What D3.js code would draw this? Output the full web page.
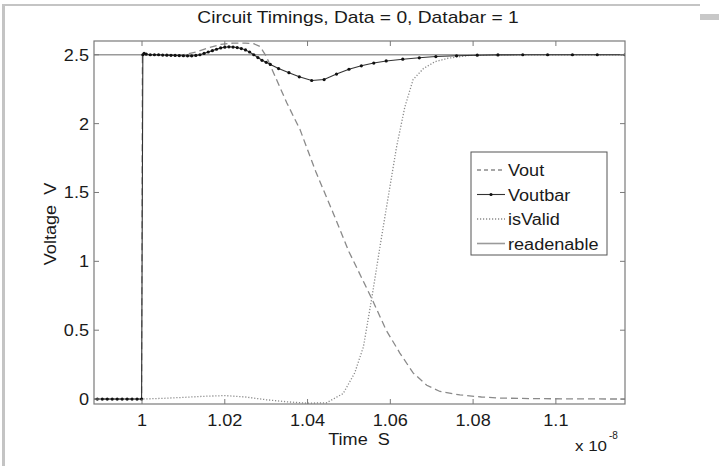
<!DOCTYPE html>
<html>
<head>
<meta charset="utf-8">
<script src="https://cdn.jsdelivr.net/npm/d3@7"></script>
<style>
html,body{margin:0;padding:0;background:#fff;}
svg{display:block;}
text{font-family:"Liberation Sans",Arial,sans-serif;fill:#1a1a1a;}
</style>
</head>
<body>
<svg id="chart" width="719" height="466"></svg>
<script>
// ---- data (time in units of 1e-8 s) ----
const xTicks = [1, 1.02, 1.04, 1.06, 1.08, 1.1];
const xTickLabels = ["1", "1.02", "1.04", "1.06", "1.08", "1.1"];
const yTicks = [0, 0.5, 1, 1.5, 2, 2.5];
const yTickLabels = ["0", "0.5", "1", "1.5", "2", "2.5"];
const seriesNames = ["Vout", "Voutbar", "isValid", "readenable"];

const voutT = [0.988, 0.9999, 1.0001, 1.005, 1.01, 1.013, 1.016, 1.019, 1.022, 1.025, 1.027, 1.0285, 1.030, 1.0325, 1.035, 1.0382, 1.042, 1.0462, 1.050, 1.0555, 1.059, 1.0623, 1.0655, 1.0688, 1.072, 1.0768, 1.082, 1.0865, 1.095, 1.105, 1.1167];
const voutV = [0, 0, 2.5, 2.5, 2.5, 2.52, 2.55, 2.575, 2.585, 2.585, 2.58, 2.56, 2.49, 2.32, 2.15, 1.955, 1.65, 1.35, 1.07, 0.73, 0.5, 0.334, 0.19, 0.10, 0.055, 0.03, 0.015, 0.007, 0.003, 0.001, 0];

const voutbarT = [0.988, 0.9892, 0.9904, 0.9916, 0.9928, 0.994, 0.9952, 0.9964, 0.9976, 0.9988, 0.9999,
  1.0002, 1.0005, 1.001, 1.002, 1.003, 1.004, 1.005, 1.006, 1.007, 1.008, 1.009, 1.010, 1.011, 1.012,
  1.013, 1.014, 1.015, 1.016, 1.017, 1.018, 1.019, 1.020, 1.021, 1.022, 1.023, 1.024, 1.025, 1.026,
  1.027, 1.028, 1.029, 1.030, 1.031, 1.033, 1.0355, 1.038, 1.041, 1.044, 1.047, 1.050, 1.053, 1.056,
  1.059, 1.063, 1.067, 1.071, 1.076, 1.081, 1.086, 1.092, 1.098, 1.104, 1.110, 1.1167];
const voutbarV = [0, 0, 0, 0, 0, 0, 0, 0, 0, 0, 0,
  2.5, 2.51, 2.505, 2.5, 2.5, 2.5, 2.498, 2.497, 2.496, 2.495, 2.494, 2.493, 2.492, 2.492,
  2.495, 2.50, 2.51, 2.52, 2.53, 2.54, 2.55, 2.555, 2.558, 2.556, 2.552, 2.545, 2.535, 2.52,
  2.5, 2.48, 2.46, 2.445, 2.43, 2.40, 2.37, 2.34, 2.313, 2.32, 2.36, 2.395, 2.42, 2.44,
  2.455, 2.468, 2.478, 2.487, 2.493, 2.497, 2.499, 2.5, 2.5, 2.5, 2.5, 2.5];

const isValidT = [0.988, 1.0, 1.005, 1.01, 1.015, 1.02, 1.025, 1.03, 1.035, 1.04, 1.0446, 1.0486, 1.0514, 1.0535, 1.0555, 1.0575, 1.0595, 1.0615, 1.0635, 1.0655, 1.068, 1.0708, 1.074, 1.079, 1.085, 1.095, 1.105, 1.1167];
const isValidV = [0, 0, 0.005, 0.012, 0.02, 0.025, 0.015, -0.005, -0.02, -0.03, -0.027, 0.04, 0.19, 0.38, 0.73, 1.107, 1.47, 1.83, 2.12, 2.32, 2.40, 2.45, 2.475, 2.495, 2.5, 2.5, 2.5, 2.5];

const readT = [0.988, 1.1167];
const readV = [2.5, 2.5];

// ---- layout ----
const svg = d3.select("#chart");
const L = 94, R = 625, T = 41, B = 404;
const STRETCH = 1.13;

const x = d3.scaleLinear().domain([0.9884, 1.1167]).range([L, R]);
const y = d3.scaleLinear().domain([-0.036, 2.6]).range([B, T]);

function stretch(sel) {
  sel.each(function () {
    const w = this.getComputedTextLength();
    this.setAttribute("textLength", (w * STRETCH).toFixed(2));
    this.setAttribute("lengthAdjust", "spacingAndGlyphs");
  });
  return sel;
}

// outer gray frame pieces
svg.append("rect").attr("x", 2).attr("y", 4).attr("width", 3).attr("height", 462).attr("fill", "#c4c4c4");
svg.append("rect").attr("x", 2).attr("y", 4).attr("width", 698).attr("height", 2).attr("fill", "#c4c4c4");
svg.append("rect").attr("x", 700).attr("y", 14).attr("width", 19).attr("height", 6).attr("fill", "#c8c8c8");

// plot area
svg.append("rect").attr("x", L).attr("y", T).attr("width", R - L).attr("height", B - T).attr("fill", "#fff");

svg.append("defs").append("clipPath").attr("id", "clip")
  .append("rect").attr("x", L).attr("y", T).attr("width", R - L).attr("height", B - T);

const g = svg.append("g").attr("clip-path", "url(#clip)");
const line = d3.line().x(d => x(d[0])).y(d => y(d[1]));
const zip = (a, b) => a.map((v, i) => [v, b[i]]);

g.append("path").datum(zip(readT, readV)).attr("d", line)
  .attr("fill", "none").attr("stroke", "#9a9a9a").attr("stroke-width", 1.6);
g.append("path").datum(zip(isValidT, isValidV)).attr("d", line)
  .attr("fill", "none").attr("stroke", "#8a8a8a").attr("stroke-width", 1.3).attr("stroke-dasharray", "1.2,1.8");
g.append("path").datum(zip(voutT, voutV)).attr("d", line)
  .attr("fill", "none").attr("stroke", "#8a8a8a").attr("stroke-width", 1.3).attr("stroke-dasharray", "7,4");
g.append("path").datum(zip(voutbarT, voutbarV)).attr("d", line)
  .attr("fill", "none").attr("stroke", "#333").attr("stroke-width", 1.1);
g.selectAll("circle.vb").data(zip(voutbarT, voutbarV)).enter().append("circle")
  .attr("class", "vb").attr("cx", d => x(d[0])).attr("cy", d => y(d[1])).attr("r", 1.6).attr("fill", "#111");

// axes box
const axisColor = "#7a7a7a";
svg.append("rect").attr("x", L).attr("y", T).attr("width", R - L).attr("height", B - T)
  .attr("fill", "none").attr("stroke", axisColor).attr("stroke-width", 1.2);

// ticks (inward, all four sides)
const TL = 5;
xTicks.forEach(t => {
  const px = x(t);
  svg.append("line").attr("x1", px).attr("x2", px).attr("y1", B).attr("y2", B - TL).attr("stroke", axisColor);
  svg.append("line").attr("x1", px).attr("x2", px).attr("y1", T).attr("y2", T + TL).attr("stroke", axisColor);
});
yTicks.forEach(t => {
  const py = y(t);
  svg.append("line").attr("x1", L).attr("x2", L + TL).attr("y1", py).attr("y2", py).attr("stroke", axisColor);
  svg.append("line").attr("x1", R).attr("x2", R - TL).attr("y1", py).attr("y2", py).attr("stroke", axisColor);
});

// tick labels
stretch(svg.selectAll("text.xt").data(xTicks).enter().append("text").attr("class", "xt")
  .attr("x", d => x(d)).attr("y", 426).attr("text-anchor", "middle").attr("font-size", 16)
  .text((d, i) => xTickLabels[i]));
stretch(svg.selectAll("text.yt").data(yTicks).enter().append("text").attr("class", "yt")
  .attr("x", 89).attr("y", d => y(d) + 6).attr("text-anchor", "end").attr("font-size", 16)
  .text((d, i) => yTickLabels[i]));

// title and axis labels
stretch(svg.append("text").attr("x", 358).attr("y", 23).attr("text-anchor", "middle").attr("font-size", 17)
  .text("Circuit Timings, Data = 0, Databar = 1"));
stretch(svg.append("text").attr("x", 359).attr("y", 445).attr("text-anchor", "middle").attr("font-size", 16)
  .text("Time  S").style("white-space", "pre"));
stretch(svg.append("text").attr("transform", "translate(56,224) rotate(-90)").attr("text-anchor", "middle").attr("font-size", 16)
  .text("Voltage  V").style("white-space", "pre"));
stretch(svg.append("text").attr("x", 575).attr("y", 451).attr("font-size", 15).text("x 10"));
svg.append("text").attr("x", 609).attr("y", 439).attr("font-size", 10).text("-8");

// legend
const lg = svg.append("g");
lg.append("rect").attr("x", 471).attr("y", 152).attr("width", 136).attr("height", 103)
  .attr("fill", "#fff").attr("stroke", "#555").attr("stroke-width", 1);
const styles = [
  {stroke: "#8a8a8a", dash: "4,3", w: 1.3, marker: false},
  {stroke: "#333", dash: null, w: 1.1, marker: true},
  {stroke: "#8a8a8a", dash: "1.2,1.8", w: 1.3, marker: false},
  {stroke: "#9a9a9a", dash: null, w: 1.6, marker: false}
];
seriesNames.forEach((name, i) => {
  const cy = 170 + i * 24.5;
  const s = styles[i];
  const ln = lg.append("line").attr("x1", 477).attr("x2", 505).attr("y1", cy).attr("y2", cy)
    .attr("stroke", s.stroke).attr("stroke-width", s.w);
  if (s.dash) ln.attr("stroke-dasharray", s.dash);
  if (s.marker) lg.append("circle").attr("cx", 491).attr("cy", cy).attr("r", 1.6).attr("fill", "#111");
  stretch(lg.append("text").attr("x", 508).attr("y", cy + 6).attr("font-size", 16).text(name));
});
</script>
</body>
</html>
